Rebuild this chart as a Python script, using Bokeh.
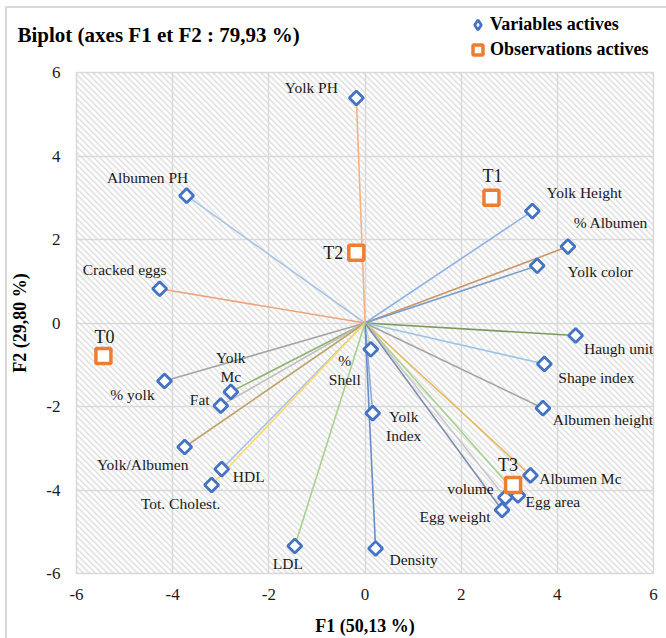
import numpy as np
from bokeh.plotting import figure
from bokeh.layouts import column
from bokeh.models import (ColumnDataSource, Legend, LegendItem, FixedTicker,
                          PrintfTickFormatter, Label, Range1d)
from bokeh.core.properties import value
from bokeh.embed import file_html
from bokeh.resources import INLINE

# ---------------- data ----------------
var_names = ["Yolk PH", "Albumen PH", "Cracked eggs", "Yolk Height", "% Albumen",
             "Yolk color", "Haugh unit", "Shape index", "Albumen height", "%\nShell",
             "Yolk\nIndex", "Density", "Albumen Mc", "Egg area", "volume",
             "Egg weight", "% yolk", "Yolk\nMc", "Fat", "Yolk/Albumen", "HDL",
             "Tot. Cholest.", "LDL"]
var_f1 = [-0.18, -3.71, -4.27, 3.48, 4.22, 3.58, 4.38, 3.73, 3.70, 0.12, 0.16, 0.22,
          3.44, 3.18, 2.92, 2.85, -4.17, -2.79, -3.00, -3.75, -2.98, -3.19, -1.46]
var_f2 = [5.39, 3.05, 0.82, 2.68, 1.83, 1.37, -0.30, -0.98, -2.04, -0.63, -2.16, -5.40,
          -3.65, -4.13, -4.18, -4.48, -1.39, -1.65, -1.98, -2.97, -3.50, -3.88, -5.34]

obs_names = ["T0", "T1", "T2", "T3"]
obs_f1 = [-5.44, 2.63, -0.18, 3.08]
obs_f2 = [-0.79, 3.00, 1.68, -3.88]

axis_ticks = [-6, -4, -2, 0, 2, 4, 6]

# ---------------- styles ----------------
line_colors = ["#f4b183", "#a9c4e6", "#eea47a", "#8db4e2", "#c9966a", "#7a9cc6",
               "#7a9a60", "#9dc3e6", "#a5a5a5", "#c5e0b4", "#8eaadb", "#6a8cc8",
               "#e6b85c", "#a9d18e", "#c8c8c8", "#7f8fb0", "#a5a5a5", "#8fb474",
               "#bfbfbf", "#bfa36a", "#a9c4eb", "#ffd966", "#a9d18e"]
var_dx = [-45, -39, -35, 52, 43, 63, 43, 52, 60, -26, 31, 38, 50, 35, -35, -47, -32,
          0, -21, -42, 27, -31, -7]
var_dy = [-10, -18, -19, -19, -24, 6, 13, 14, 11, 21, 13, 11, 3, 6, -9, 6, 13, -25,
          -6, 18, 7, 19, 18]
obs_dx = [1, 1, -23, -5]
obs_dy = [-19, -22, 0, -20]

FONT = "Liberation Serif"
BLUE = "#4472c4"
ORANGE = "#ed7d31"
GRID = "#d9d9d9"
W = 666
TOTAL_H = 638
HEAD_H = 62
FRAME_W, FRAME_H = 577, 501
BORDER_L, BORDER_R, BORDER_T = 76, 13, 10
HEAD_Y0 = 100  # header range starts away from the data so legend proxies stay hidden

var_src = ColumnDataSource(dict(name=var_names, x=var_f1, y=var_f2,
                                color=line_colors, dx=var_dx, dy=var_dy,
                                x0=[0.0] * len(var_f1), y0=[0.0] * len(var_f2)))
obs_src = ColumnDataSource(dict(name=obs_names, x=obs_f1, y=obs_f2,
                                dx=obs_dx, dy=obs_dy))

# ---------------- header (title + legend) ----------------
head = figure(width=W, height=HEAD_H, x_range=Range1d(0, W),
              y_range=Range1d(HEAD_Y0, HEAD_Y0 + HEAD_H),
              output_backend="svg", toolbar_location=None, min_border=0,
              x_axis_type=None, y_axis_type=None)
head.title = None
head.frame_align = False
head.grid.visible = False
head.outline_line_color = None
head.background_fill_alpha = 0
head.border_fill_alpha = 0
head.add_layout(Label(x=17, y=HEAD_Y0 + HEAD_H - 34,
                      text="Biplot (axes F1 et F2 : 79,93 %)",
                      text_font=FONT, text_font_style="bold", text_font_size="21px",
                      text_baseline="middle", text_align="left", text_color="#000000"))
leg_var = head.scatter(x="x", y="y", source=var_src, marker="diamond", size=10,
                       line_color=BLUE, line_width=2.8, fill_color="white")
leg_obs = head.scatter(x="x", y="y", source=obs_src, marker="square", size=10,
                       line_color=ORANGE, line_width=3.5, fill_color="white")
legend = Legend(items=[LegendItem(label="Variables actives", renderers=[leg_var]),
                       LegendItem(label="Observations actives", renderers=[leg_obs])],
                location=(465, 0), orientation="vertical",
                glyph_width=25, glyph_height=25, label_height=25, spacing=0,
                label_standoff=-6, padding=0, margin=0,
                border_line_color=None, background_fill_alpha=0,
                label_text_font=FONT, label_text_font_style="bold",
                label_text_font_size="18px", label_text_color="#000000",
                label_text_baseline="middle")
head.add_layout(legend)

# ---------------- main biplot ----------------
p = figure(width=W, height=TOTAL_H - HEAD_H, x_range=(-6, 6), y_range=(-6, 6),
           output_backend="svg", toolbar_location=None,
           min_border_left=BORDER_L, min_border_right=BORDER_R, min_border_top=BORDER_T,
           min_border_bottom=TOTAL_H - HEAD_H - BORDER_T - FRAME_H)
p.frame_align = False
p.background_fill_color = "white"
p.border_fill_alpha = 0
p.outline_line_color = GRID
p.outline_line_width = 1.5

# hatched plot-area texture (pure styling, one texel per screen pixel)
rr = np.arange(FRAME_H)[:, None]
cc = np.arange(FRAME_W)[None, :]
phase = (rr + cc) % 6
tex = np.zeros((FRAME_H, FRAME_W), dtype=np.uint32)
tv = tex.view(dtype=np.uint8).reshape((FRAME_H, FRAME_W, 4))
tv[:, :, 0] = 200
tv[:, :, 1] = 200
tv[:, :, 2] = 200
tv[:, :, 3] = np.where(phase == 0, 230, np.where(phase == 1, 90, 0)).astype(np.uint8)
p.image_rgba(image=[tex], x=axis_ticks[0], y=axis_ticks[0],
             dw=axis_ticks[-1] - axis_ticks[0], dh=axis_ticks[-1] - axis_ticks[0],
             level="underlay")

for ax in (p.xaxis[0], p.yaxis[0]):
    ax.ticker = FixedTicker(ticks=axis_ticks)
    ax.formatter = PrintfTickFormatter(format="%d")
    ax.axis_line_color = None
    ax.major_tick_line_color = None
    ax.minor_tick_line_color = None
    ax.major_tick_out = 0
    ax.major_tick_in = 0
    ax.minor_tick_out = 0
    ax.major_label_text_font = FONT
    ax.major_label_text_font_size = "17px"
    ax.major_label_text_color = "#1a1a1a"
    ax.axis_label_text_font = FONT
    ax.axis_label_text_font_style = "bold"
    ax.axis_label_text_font_size = "18px"
    ax.axis_label_text_color = "#000000"

p.xaxis.axis_label = "F1 (50,13 %)"
p.yaxis.axis_label = "F2 (29,80 %)"
p.xaxis.major_label_standoff = 15
p.yaxis.major_label_standoff = 16
p.xaxis.axis_label_standoff = 13
p.yaxis.axis_label_standoff = 13

p.xgrid.ticker = FixedTicker(ticks=axis_ticks)
p.ygrid.ticker = FixedTicker(ticks=axis_ticks)
p.grid.grid_line_color = GRID
p.grid.grid_line_width = 1.5

# vectors
p.segment(x0="x0", y0="y0", x1="x", y1="y", line_color="color", line_width=1.6,
          source=var_src)

# variable markers (diamonds)
p.scatter(x="x", y="y", marker="square", size=10, angle=np.pi / 4,
          line_color=BLUE, line_width=2.8, fill_color="white", source=var_src)
# observation markers
p.scatter(x="x", y="y", marker="square", size=15, line_color=ORANGE,
          line_width=3.5, fill_color="white", source=obs_src)

p.text(x="x", y="y", text="name", x_offset="dx", y_offset="dy", source=var_src,
       text_font=value(FONT), text_font_size="15.5px", text_align="center",
       text_baseline="middle", text_color="#1a1a1a", text_line_height=1.12)
p.text(x="x", y="y", text="name", x_offset="dx", y_offset="dy", source=obs_src,
       text_font=value(FONT), text_font_size="18px", text_align="center",
       text_baseline="middle", text_color="#1a1a1a")

frame_css = ("linear-gradient(#d9d9d9, #d9d9d9) 5px 6px / 2px 640px no-repeat, "
             "linear-gradient(#d9d9d9, #d9d9d9) 5px 6px / 670px 2px no-repeat, #ffffff")
layout = column(head, p, spacing=0, styles={"background": frame_css})
open("out.html", "w").write(file_html(layout, INLINE))
